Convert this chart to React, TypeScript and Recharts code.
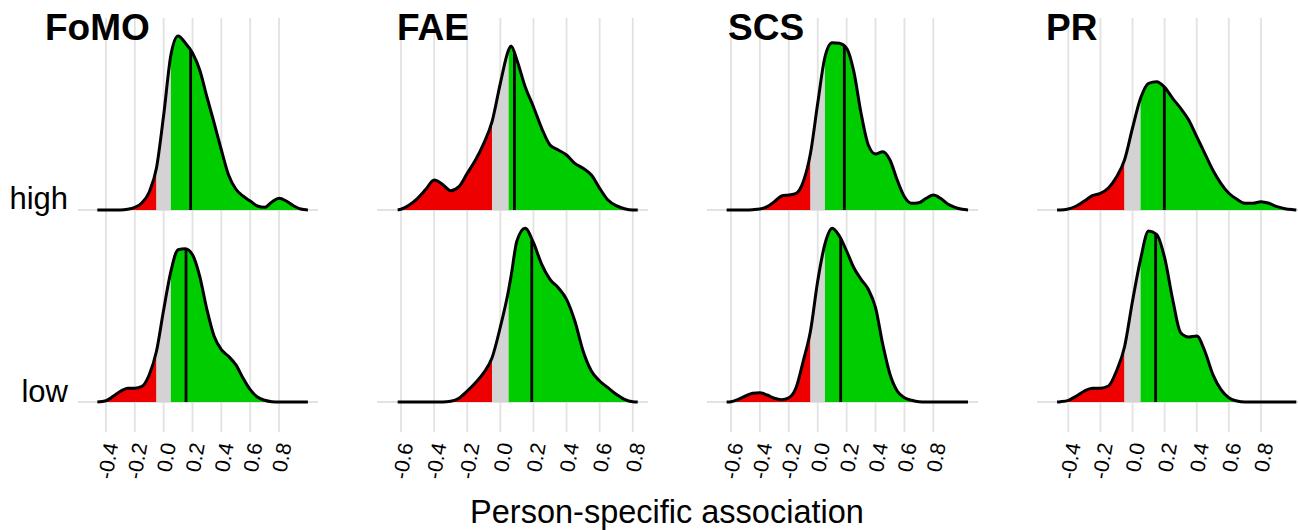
import React from 'react';
import { ComposedChart, Area, Line, XAxis, YAxis, CartesianGrid, ReferenceLine } from 'recharts';

const FONT = '"Liberation Sans", Arial, Helvetica, sans-serif';
const RED = '#EE0000';
const GREY = '#D3D3D3';
const GREEN = '#00CD00';
const GRID = '#E2E2E2';
const CUT_LO = -0.05;
const CUT_HI = 0.05;
// vertical offset of the "high" ridge, in scaled-density units
const ROW_GAP = 192;

// ---------- FoMO ----------
const FOMO_X = [-0.46, -0.40, -0.35, -0.30, -0.25, -0.20, -0.15, -0.10, -0.05, 0.00, 0.05, 0.10, 0.15, 0.20, 0.25, 0.30, 0.35, 0.40, 0.45, 0.50, 0.55, 0.60, 0.65, 0.70, 0.75, 0.80, 0.85, 0.90, 0.95, 1.00];
const FOMO_HIGH = [0, 0, 0, 0, 0.7, 2.7, 7.3, 18, 42, 95, 155, 174, 167, 157, 140, 113, 87, 60, 35, 21, 14, 9, 4, 2.7, 8, 11.7, 9, 4.3, 1, 0];
const FOMO_LOW = [0, 1.3, 5.7, 10.7, 13.7, 13.7, 15.7, 27.3, 50.7, 92.3, 130.7, 152.3, 153.3, 147.3, 125.7, 92.3, 65.7, 52.3, 45.7, 37.3, 24, 12.3, 5, 1.7, 0.3, 0, 0, 0, 0, 0];
const FOMO_MEDIAN = { high: 0.187, highH: 161, low: 0.155, lowH: 153 };

// ---------- FAE ----------
const FAE_X = [-0.62, -0.60, -0.55, -0.50, -0.45, -0.40, -0.35, -0.30, -0.25, -0.20, -0.15, -0.10, -0.05, 0.00, 0.05, 0.065, 0.10, 0.15, 0.20, 0.25, 0.30, 0.35, 0.40, 0.45, 0.50, 0.55, 0.60, 0.65, 0.70, 0.75, 0.80, 0.83];
const FAE_HIGH = [0, 0.7, 5, 11.7, 20.7, 30, 25.7, 19.3, 23.3, 36.7, 50, 66.7, 88.3, 126.7, 160, 164, 150, 123.3, 103.3, 81.7, 65, 60, 55, 46.7, 41.7, 35, 21.7, 10, 4.3, 1.3, 0, 0];
const FAE_LOW = [0, 0, 0, 0, 0, 0, 0, 0.7, 3.7, 11, 19.3, 29.3, 44.3, 75, 112, 126, 161, 173.7, 159.3, 137.7, 122.7, 114.3, 102.7, 81, 51, 31, 21, 14.3, 7.7, 2.7, 0.3, 0];
const FAE_MEDIAN = { high: 0.085, highH: 157, low: 0.19, lowH: 162 };

// ---------- SCS ----------
const SCS_X = [-0.63, -0.60, -0.55, -0.50, -0.45, -0.40, -0.35, -0.30, -0.25, -0.20, -0.15, -0.10, -0.05, 0.00, 0.05, 0.10, 0.15, 0.20, 0.25, 0.30, 0.35, 0.40, 0.45, 0.50, 0.55, 0.60, 0.65, 0.70, 0.75, 0.80, 0.85, 0.90, 0.95, 1.00, 1.04];
const SCS_HIGH = [0, 0, 0, 0, 0.3, 1, 3.3, 8.3, 14, 15, 16.7, 28.3, 56.7, 106.7, 153, 167.3, 166.7, 161.7, 138.3, 96.7, 65, 56, 58.3, 50, 30, 13.3, 6.7, 7.3, 11.7, 15, 11.7, 6, 2.7, 0.7, 0];
const SCS_LOW = [0, 0.3, 2.7, 6, 8.7, 9.3, 7, 3.7, 2.3, 4.3, 14.3, 41, 71, 121, 158, 173.7, 166, 151, 134.3, 122.7, 112.7, 94.3, 57.7, 27.7, 11, 4.3, 1.7, 0.3, 0, 0, 0, 0, 0, 0, 0];
const SCS_MEDIAN = { high: 0.184, highH: 163, low: 0.159, lowH: 164 };

// ---------- PR ----------
const PR_X = [-0.47, -0.45, -0.40, -0.35, -0.30, -0.25, -0.20, -0.15, -0.10, -0.05, 0.00, 0.05, 0.10, 0.15, 0.20, 0.25, 0.30, 0.35, 0.40, 0.45, 0.50, 0.55, 0.60, 0.65, 0.70, 0.75, 0.80, 0.85, 0.90, 0.95, 1.00, 1.02];
const PR_HIGH = [0, 0, 1, 4, 9, 14.3, 16.7, 22, 33, 50, 82, 111.7, 126.7, 128.3, 122.7, 111.7, 101.7, 90, 73.3, 56.7, 40, 26.7, 16.7, 10.7, 6.7, 6.7, 8.3, 6.7, 3.3, 1.3, 0.3, 0];
const PR_LOW = [0, 0.3, 1.7, 6, 11, 13.7, 13.7, 16, 31, 55, 101, 142.7, 171, 167.7, 144.3, 102.7, 69.3, 65, 66, 51, 27.7, 12.7, 4.3, 1, 0, 0, 0, 0, 0, 0, 0, 0];
const PR_MEDIAN = { high: 0.198, highH: 123, low: 0.144, lowH: 168 };

// ---------- tick labels ----------
const TICKS_A = [-0.4, -0.2, 0.0, 0.2, 0.4, 0.6, 0.8];
const TICKS_B = [-0.6, -0.4, -0.2, 0.0, 0.2, 0.4, 0.6, 0.8];

const ROW_LABELS = ['high', 'low'];
const X_TITLE = 'Person-specific association';

const PANELS = [
  { title: 'FoMO', xs: FOMO_X, high: FOMO_HIGH, low: FOMO_LOW, med: FOMO_MEDIAN, ticks: TICKS_A, domain: [-0.594, 1.070], left: 78, width: 240, titleX: 45 },
  { title: 'FAE', xs: FAE_X, high: FAE_HIGH, low: FAE_LOW, med: FAE_MEDIAN, ticks: TICKS_B, domain: [-0.745, 0.892], left: 377, width: 271, titleX: 397 },
  { title: 'SCS', xs: SCS_X, high: SCS_HIGH, low: SCS_LOW, med: SCS_MEDIAN, ticks: TICKS_B, domain: [-0.766, 1.109], left: 707, width: 271, titleX: 728 },
  { title: 'PR', xs: PR_X, high: PR_HIGH, low: PR_LOW, med: PR_MEDIAN, ticks: TICKS_A, domain: [-0.595, 1.093], left: 1037, width: 271, titleX: 1046 },
];

const EPS = 1e-9;
const STROKE = 3;

function RotTick(props: any) {
  const { x, y, payload } = props;
  const ax = x + 5;
  const ay = y + 3;
  return (
    <text
      x={ax}
      y={ay}
      transform={`rotate(-80 ${ax} ${ay})`}
      textAnchor="end"
      dominantBaseline="central"
      fontSize={21}
      fontFamily={FONT}
      fill="#000"
    >
      {Number(payload.value).toFixed(1)}
    </text>
  );
}

function Panel({ cfg }: { cfg: any }) {
  const data = cfg.xs.map((x: number, i: number) => ({ x, high: cfg.high[i], low: cfg.low[i] }));
  const part = (lo: number, hi: number, key: 'high' | 'low') => {
    const base = key === 'high' ? ROW_GAP : 0;
    return (r: any) => (r.x >= lo - EPS && r.x <= hi + EPS ? [base, base + r[key]] : null);
  };
  const areas: any[] = [];
  (['high', 'low'] as const).forEach((key) => {
    areas.push(
      <Area key={key + 'r'} type="monotone" dataKey={part(-10, CUT_LO, key)} fill={RED} fillOpacity={1} stroke="none" isAnimationActive={false} dot={false} activeDot={false} />,
      <Area key={key + 'g'} type="monotone" dataKey={part(CUT_LO, CUT_HI, key)} fill={GREY} fillOpacity={1} stroke="none" isAnimationActive={false} dot={false} activeDot={false} />,
      <Area key={key + 'n'} type="monotone" dataKey={part(CUT_HI, 10, key)} fill={GREEN} fillOpacity={1} stroke="none" isAnimationActive={false} dot={false} activeDot={false} />,
    );
  });
  return (
    <div style={{ position: 'absolute', left: cfg.left, top: 0 }}>
      <ComposedChart width={cfg.width} height={530} data={data} margin={{ top: 18, right: 0, bottom: 0, left: 0 }}>
        <CartesianGrid vertical horizontal syncWithTicks stroke={GRID} strokeWidth={1.8} />
        <XAxis
          dataKey="x"
          type="number"
          domain={cfg.domain}
          allowDataOverflow
          ticks={cfg.ticks}
          interval={0}
          tickLine={false}
          axisLine={false}
          height={98}
          tick={<RotTick />}
        />
        <YAxis type="number" domain={[-30, 384]} allowDataOverflow ticks={[0, ROW_GAP]} hide />
        {areas}
        <Line type="monotone" dataKey={(r: any) => ROW_GAP + r.high} stroke="#000" strokeWidth={STROKE} dot={false} activeDot={false} isAnimationActive={false} />
        <Line type="monotone" dataKey={(r: any) => r.low} stroke="#000" strokeWidth={STROKE} dot={false} activeDot={false} isAnimationActive={false} />
        <ReferenceLine
          segment={[{ x: cfg.med.high, y: ROW_GAP }, { x: cfg.med.high, y: ROW_GAP + cfg.med.highH }]}
          stroke="#000"
          strokeWidth={2.8}
        />
        <ReferenceLine
          segment={[{ x: cfg.med.low, y: 0 }, { x: cfg.med.low, y: cfg.med.lowH }]}
          stroke="#000"
          strokeWidth={2.8}
        />
      </ComposedChart>
    </div>
  );
}

export default function App() {
  return (
    <div
      style={{
        position: 'absolute',
        left: 0,
        top: 0,
        width: 1298,
        height: 530,
        overflow: 'hidden',
        background: '#fff',
        fontFamily: FONT,
      }}
    >
      {PANELS.map((p) => (
        <Panel key={p.title} cfg={p} />
      ))}
      <svg width={1298} height={530} style={{ position: 'absolute', left: 0, top: 0, pointerEvents: 'none' }}>
        {PANELS.map((p) => (
          <text key={p.title} x={p.titleX} y={40} fontSize={37} fontWeight="bold" fontFamily={FONT} fill="#000">
            {p.title}
          </text>
        ))}
        <text x={68} y={209} fontSize={31} textAnchor="end" fontFamily={FONT} fill="#000">{ROW_LABELS[0]}</text>
        <text x={68} y={402} fontSize={31} textAnchor="end" fontFamily={FONT} fill="#000">{ROW_LABELS[1]}</text>
        <text x={667} y={523} fontSize={32.5} textAnchor="middle" fontFamily={FONT} fill="#000">{X_TITLE}</text>
      </svg>
    </div>
  );
}
